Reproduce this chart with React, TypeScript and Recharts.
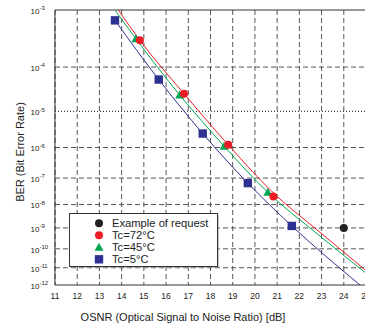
import {
  CartesianGrid,
  ComposedChart,
  Line,
  ReferenceLine,
  Scatter,
  XAxis,
  YAxis
} from "recharts";

// OSNR axis and BER decades (BER = 10^-k)
const osnrTicks = [11, 12, 13, 14, 15, 16, 17, 18, 19, 20, 21, 22, 23, 24, 25];
const berExponents = [3, 4, 5, 6, 7, 8, 9, 10, 11, 12];
const dottedExponent = 5;

// measured points
const tc72Osnr = [14.82, 16.81, 18.8, 20.83];
const tc72Ber = [3.2e-4, 2.65e-5, 1.2e-6, 2.1e-8];
const tc45Osnr = [14.64, 16.61, 18.61, 20.58];
const tc45Ber = [3.4e-4, 2.5e-5, 1.1e-6, 3.0e-8];
const tc5Osnr = [13.7, 15.67, 17.65, 19.68, 21.66];
const tc5Ber = [6.9e-4, 5.5e-5, 2.56e-6, 6.6e-8, 1.23e-9];
const requestOsnr = [24];
const requestBer = [1e-9];

// fitted curves
const fit72Osnr = [13.85, 14.82, 16.81, 18.8, 20.77, 22.93, 25];
const fit72Ber = [1e-3, 3.2e-4, 2.65e-5, 1.2e-6, 3.2e-8, 6.3e-10, 6.9e-12];
const fit45Osnr = [13.7, 14.64, 16.61, 18.61, 20.58, 22.84, 25];
const fit45Ber = [1e-3, 3.4e-4, 2.5e-5, 1.1e-6, 3.0e-8, 5e-10, 4.9e-12];
const fit5Osnr = [13.7, 15.67, 17.65, 19.68, 21.66, 24.73];
const fit5Ber = [6.9e-4, 5.5e-5, 2.56e-6, 6.6e-8, 1.23e-9, 1e-12];

const RED = "#ed1c24";
const GREEN = "#00a651";
const BLUE = "#2e3192";
const BLACK = "#231f20";
const FONT = "'Liberation Sans', Arial, Helvetica, sans-serif";

// BER axis is drawn on a log(-log(BER)) scale
const toZ = (ber: number) => Math.log10(-Math.log10(ber));

const toRows = (xs: number[], bers: number[]) =>
  xs.map((x, i) => ({ x, z: toZ(bers[i]) }));

const yTicks = berExponents.map((k) => Math.log10(k));

const YTick = ({ y, payload }: any) => {
  const k = Math.round(Math.pow(10, payload.value));
  return (
    <text x={30.5} y={y + 3.8} fontSize={8} fill="#222" fontFamily={FONT}>
      10
      <tspan dy={-3.6} fontSize={6}>
        -{k}
      </tspan>
    </text>
  );
};

const XTick = ({ x, y, payload }: any) => (
  <text x={x} y={y + 14.3} fontSize={8.5} fill="#222" textAnchor="middle" fontFamily={FONT}>
    {payload.value}
  </text>
);

const Circle = ({ cx, cy, fill }: any) => <circle cx={cx} cy={cy} r={4} fill={fill} />;
const Square = ({ cx, cy, fill }: any) => (
  <rect x={cx - 4.2} y={cy - 4.2} width={8.4} height={8.4} fill={fill} />
);
const Triangle = ({ cx, cy, fill }: any) => (
  <path d={`M${cx},${cy - 4.5}L${cx + 4.5},${cy + 3.5}L${cx - 4.5},${cy + 3.5}Z`} fill={fill} />
);

const legendItems = [
  { label: "Example of request", color: BLACK, shape: Circle },
  { label: "Tc=72°C", color: RED, shape: Circle },
  { label: "Tc=45°C", color: GREEN, shape: Triangle },
  { label: "Tc=5°C", color: BLUE, shape: Square }
];

export default function App() {
  return (
    <div
      style={{
        position: "absolute",
        left: 0,
        top: 0,
        width: 365,
        height: 329,
        overflow: "hidden",
        background: "#fff"
      }}
    >
      <ComposedChart width={380} height={329} margin={{ top: 10, right: 14, bottom: 0, left: 0 }}>
        <CartesianGrid horizontal={false} stroke="#555" strokeDasharray="5 3" />
        <XAxis
          type="number"
          dataKey="x"
          domain={[11, 25]}
          ticks={osnrTicks}
          interval={0}
          allowDataOverflow
          height={44}
          tickLine={false}
          tickSize={0}
          tickMargin={0}
          axisLine={{ stroke: "#333" }}
          tick={<XTick />}
        />
        <YAxis
          type="number"
          dataKey="z"
          domain={[yTicks[0], yTicks[yTicks.length - 1]]}
          ticks={yTicks}
          interval={0}
          reversed
          allowDataOverflow
          width={55}
          tickLine={false}
          axisLine={{ stroke: "#333" }}
          tick={<YTick />}
        />
        {berExponents.slice(1, -1).map((k) => (
          <ReferenceLine
            key={k}
            y={Math.log10(k)}
            stroke={k === dottedExponent ? "#111" : "#555"}
            strokeDasharray={k === dottedExponent ? "1 2" : "5 3"}
          />
        ))}
        <ReferenceLine y={yTicks[0]} stroke="#333" />
        <Line data={toRows(fit72Osnr, fit72Ber)} dataKey="z" type="monotone" stroke={RED} strokeWidth={1} dot={false} isAnimationActive={false} />
        <Line data={toRows(fit45Osnr, fit45Ber)} dataKey="z" type="monotone" stroke={GREEN} strokeWidth={1} dot={false} isAnimationActive={false} />
        <Line data={toRows(fit5Osnr, fit5Ber)} dataKey="z" type="monotone" stroke={BLUE} strokeWidth={1} dot={false} isAnimationActive={false} />
        <Scatter data={toRows(tc5Osnr, tc5Ber)} dataKey="z" fill={BLUE} shape={<Square />} isAnimationActive={false} />
        <Scatter data={toRows(tc45Osnr, tc45Ber)} dataKey="z" fill={GREEN} shape={<Triangle />} isAnimationActive={false} />
        <Scatter data={toRows(tc72Osnr, tc72Ber)} dataKey="z" fill={RED} shape={<Circle />} isAnimationActive={false} />
        <Scatter data={toRows(requestOsnr, requestBer)} dataKey="z" fill={BLACK} shape={<Circle />} isAnimationActive={false} />
      </ComposedChart>

      <svg
        width={365}
        height={329}
        style={{ position: "absolute", left: 0, top: 0, pointerEvents: "none" }}
      >
        <text
          x={20}
          y={152}
          transform="rotate(-90 20 152)"
          textAnchor="middle"
          dominantBaseline="central"
          fontSize={11}
          fill="#222"
          fontFamily={FONT}
        >
          BER (Bit Error Rate)
        </text>
        <text x={183} y={321} textAnchor="middle" fontSize={11} fill="#222" fontFamily={FONT}>
          OSNR (Optical Signal to Noise Ratio) [dB]
        </text>

        <rect x={70.5} y={214.5} width={148} height={53} fill="#999" />
        <rect x={69.5} y={213.5} width={148} height={53} fill="#fff" stroke="#333" />
        {legendItems.map((item, i) => {
          const cy = 223.3 + i * 12;
          const Shape = item.shape;
          return (
            <g key={item.label}>
              <Shape cx={99} cy={cy} fill={item.color} />
              <text x={112} y={cy + 4} fontSize={11.2} fill="#222" fontFamily={FONT}>
                {item.label}
              </text>
            </g>
          );
        })}
      </svg>
    </div>
  );
}
